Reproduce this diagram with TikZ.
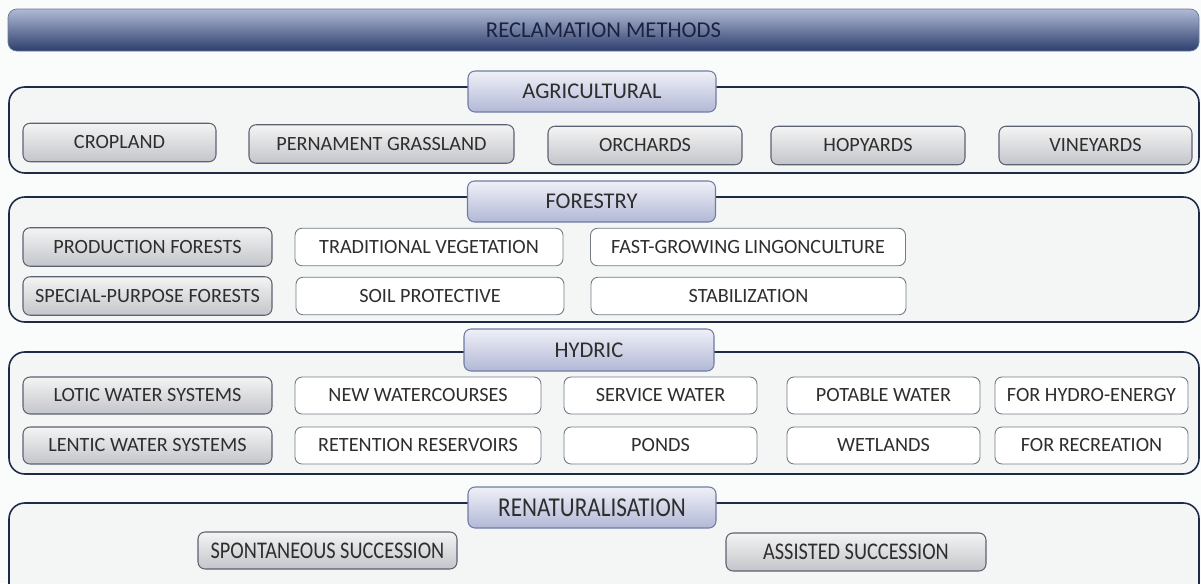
\documentclass[tikz,border=0pt]{standalone}
\usepackage{fontspec}
\setmainfont{Carlito}
\newfontfamily\narrowfont[FakeStretch=0.85]{Carlito}
\usepackage{tikz}
\usetikzlibrary{positioning}
\definecolor{pagebg}{HTML}{FAFBFB}
\definecolor{boxfill}{HTML}{F4F6F6}
\definecolor{boxline}{HTML}{1E2B47}
\definecolor{titletop}{HTML}{B0BAD6}
\definecolor{titlemid}{HTML}{8090B8}
\definecolor{titlebot}{HTML}{2D3E6D}
\definecolor{titletext}{HTML}{1A2240}
\definecolor{headtop}{HTML}{EFF0F7}
\definecolor{headbot}{HTML}{B2B8D6}
\definecolor{headline}{HTML}{6F7BA3}
\definecolor{greytop}{HTML}{F4F4F4}
\definecolor{greybot}{HTML}{C3C5CA}
\definecolor{greyline}{HTML}{5B6272}
\definecolor{itemtext}{HTML}{2E2E2E}

\begin{document}
\begin{tikzpicture}[
    groupbox/.style={draw=boxline, line width=0.9pt, fill=boxfill, rounded corners=9pt,
        minimum width=23.8cm, inner sep=0pt},
    header/.style={draw=headline, line width=0.6pt, top color=headtop, bottom color=headbot,
        rounded corners=4pt, minimum width=4.96cm, minimum height=0.82cm, inner sep=0pt,
        text=itemtext, font=\fontsize{12.8}{15}\selectfont},
    greyitem/.style={draw=greyline, line width=0.6pt, top color=greytop, bottom color=greybot,
        rounded corners=4pt, minimum height=0.77cm, inner sep=0pt,
        text=itemtext, font=\fontsize{11.5}{14}\selectfont},
    whiteitem/.style={draw=greyline!85, line width=0.5pt, fill=white,
        rounded corners=4pt, minimum height=0.75cm, inner sep=0pt,
        text=itemtext, font=\fontsize{11.5}{14}\selectfont}
]
    \useasboundingbox[fill=pagebg] (0,0) rectangle (24.02,-11.66);
    \begin{scope}[shift={(0,0)}]
        % title bar
        \node[draw=titlebot!70, line width=0.4pt, top color=titletop, middle color=titlemid,
            bottom color=titlebot, rounded corners=5pt, minimum width=23.82cm,
            minimum height=0.84cm, inner sep=0pt, text=titletext,
            font=\fontsize{12.9}{15}\selectfont] (title) at (12.07,-0.6) {RECLAMATION METHODS};

        % agricultural
        \node[groupbox, minimum height=1.72cm] (agribox) at (12.08,-2.6) {};
        \node[header] (agri) at (11.84,-1.83) {AGRICULTURAL};
        \node[greyitem, minimum width=3.86cm] (crop) at (2.39,-2.85) {CROPLAND};
        \node[greyitem, minimum width=5.3cm] (grass) at (7.63,-2.88) {PERNAMENT GRASSLAND};
        \node[greyitem, minimum width=3.88cm] (orch) at (12.9,-2.91) {ORCHARDS};
        \node[greyitem, minimum width=3.88cm] (hop) at (17.36,-2.91) {HOPYARDS};
        \node[greyitem, minimum width=3.86cm] (vine) at (21.91,-2.91) {VINEYARDS};

        % forestry
        \node[groupbox, minimum height=2.5cm] (forbox) at (12.08,-5.19) {};
        \node[header] (for) at (11.83,-4.03) {FORESTRY};
        \node[greyitem, minimum width=4.98cm] (prod) at (2.95,-4.94) {PRODUCTION FORESTS};
        \node[greyitem, minimum width=4.98cm] (spec) at (2.95,-5.92) {SPECIAL-PURPOSE FORESTS};
        \node[whiteitem, minimum width=5.36cm] (trad) at (8.58,-4.94) {TRADITIONAL VEGETATION};
        \node[whiteitem, minimum width=5.36cm] (soil) at (8.6,-5.92) {SOIL PROTECTIVE};
        \node[whiteitem, minimum width=6.3cm] (fast) at (14.96,-4.94) {FAST-GROWING LINGONCULTURE};
        \node[whiteitem, minimum width=6.3cm] (stab) at (14.97,-5.92) {STABILIZATION};

        % hydric
        \node[groupbox, minimum height=2.44cm] (hydbox) at (12.08,-8.26) {};
        \node[header, minimum width=5cm, minimum height=0.84cm] (hyd) at (11.78,-7.0) {HYDRIC};
        \node[greyitem, minimum width=4.98cm, minimum height=0.74cm] (lotic) at (2.95,-7.91) {LOTIC WATER SYSTEMS};
        \node[greyitem, minimum width=4.98cm, minimum height=0.74cm] (lentic) at (2.95,-8.91) {LENTIC WATER SYSTEMS};
        \node[whiteitem, minimum width=4.92cm, minimum height=0.74cm] (newwc) at (8.36,-7.91) {NEW WATERCOURSES};
        \node[whiteitem, minimum width=4.92cm, minimum height=0.74cm] (reten) at (8.36,-8.91) {RETENTION RESERVOIRS};
        \node[whiteitem, minimum width=3.86cm, minimum height=0.74cm] (serv) at (13.21,-7.91) {SERVICE WATER};
        \node[whiteitem, minimum width=3.86cm, minimum height=0.74cm] (ponds) at (13.21,-8.91) {PONDS};
        \node[whiteitem, minimum width=3.86cm, minimum height=0.74cm] (potab) at (17.67,-7.91) {POTABLE WATER};
        \node[whiteitem, minimum width=3.86cm, minimum height=0.74cm] (wet) at (17.67,-8.91) {WETLANDS};
        \node[whiteitem, minimum width=3.86cm, minimum height=0.74cm] (energy) at (21.83,-7.91) {FOR HYDRO-ENERGY};
        \node[whiteitem, minimum width=3.86cm, minimum height=0.74cm] (recr) at (21.83,-8.91) {FOR RECREATION};

        % renaturalisation
        \node[groupbox, minimum height=1.94cm] (renbox) at (12.08,-11.03) {};
        \node[header, font=\narrowfont\fontsize{15.5}{17}\selectfont] (ren) at (11.84,-10.15) {RENATURALISATION};
        \node[greyitem, minimum width=5.18cm, minimum height=0.74cm,
            font=\narrowfont\fontsize{13.6}{15}\selectfont] (spont) at (6.55,-11.01) {SPONTANEOUS SUCCESSION};
        \node[greyitem, minimum width=5.2cm, minimum height=0.76cm,
            font=\narrowfont\fontsize{13.6}{15}\selectfont] (assist) at (17.12,-11.04) {ASSISTED SUCCESSION};
    \end{scope}
\end{tikzpicture}
\end{document}
